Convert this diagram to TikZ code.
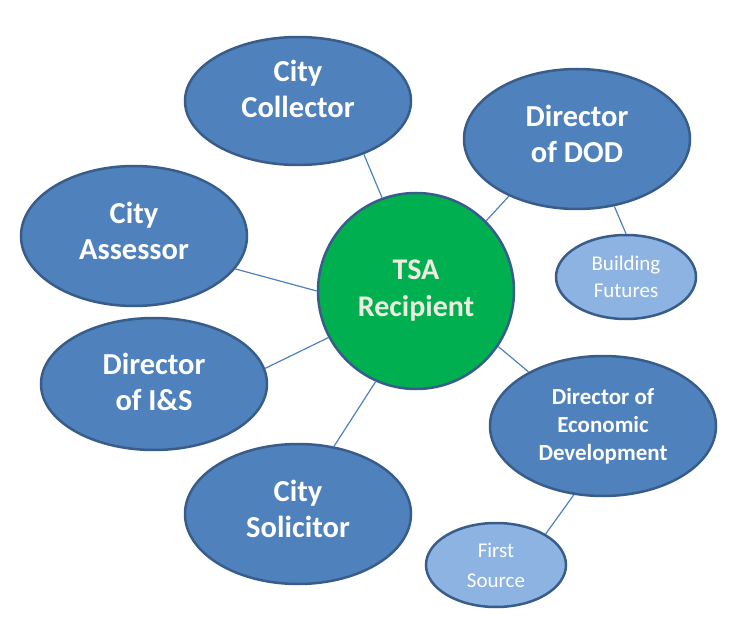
\documentclass[tikz,border=0pt]{standalone}
\usepackage{fontspec}
\setmainfont{Carlito}
\usetikzlibrary{shapes}
\definecolor{nodeblue}{HTML}{4F81BD}
\definecolor{rimblue}{HTML}{385D8A}
\definecolor{paleblue}{HTML}{8DB3E2}
\definecolor{tsagreen}{HTML}{00B050}
\definecolor{cream}{HTML}{EEECE1}

\begin{document}
\begin{tikzpicture}[x=1pt, y=-1pt, semithick]
\tikzstyle{every node}=[draw=rimblue, line width=2.5pt, inner sep=0pt, align=center]
\tikzstyle{role}=[ellipse, fill=nodeblue, text=white, minimum width=226pt, minimum height=140pt, font=\bfseries\fontsize{30.5}{36}\selectfont]
\tikzstyle{sub}=[ellipse, fill=paleblue, text=white, minimum width=140pt, minimum height=84pt, font=\fontsize{21}{27}\selectfont]
\tikzstyle{link}=[draw=nodeblue, line width=1.2pt]
\useasboundingbox (0,0) rectangle (729,623);
\node[circle, fill=tsagreen, text=cream, minimum size=196pt, font=\bfseries\fontsize{30}{37}\selectfont] (T) at (416,291) {TSA\\Recipient};
\node[role, minimum height=128pt, text depth=24pt] (A) at (298,101) {City\\Collector};
\node[role, text depth=10pt] (B) at (577,139) {Director\\of DOD};
\node[role, text depth=10pt] (C) at (134,236) {City\\Assessor};
\node[role, minimum height=132pt, text depth=4pt] (D) at (154,384) {Director\\of I\&S};
\node[role, text depth=10pt] (E) at (298,514) {City\\Solicitor};
\node[role, font=\bfseries\fontsize{23}{28}\selectfont] (F) at (603,426) {Director of\\Economic\\Development};
\node[sub] (G) at (626,277) {Building\\Futures};
\node[sub, font=\fontsize{21}{30}\selectfont] (H) at (496,565) {First\\Source};
\path[link]
(A.-39) edge (T.110)
(B.220) edge (T.45)
(C.-18) edge (T.180)
(D.8) edge (T.208)
(E.62) edge (T.246)
(F.144) edge (T.-34)
(B.-61) edge (G.90)
(F.247) edge (H.32);
\end{tikzpicture}
\end{document}
